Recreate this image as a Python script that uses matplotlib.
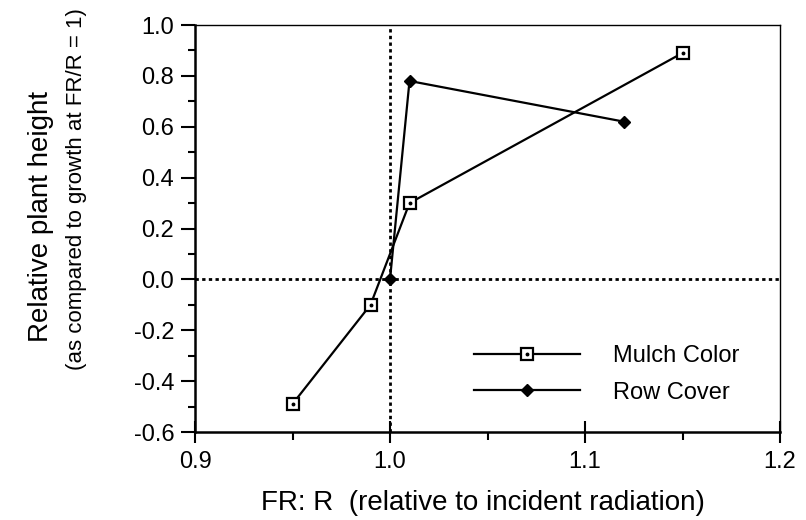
import matplotlib
matplotlib.use("Agg")
import matplotlib.pyplot as plt
from matplotlib.ticker import MultipleLocator
from matplotlib.legend_handler import HandlerTuple

plt.rcParams['font.family'] = ['Liberation Sans', 'DejaVu Sans']

# data
mulch_x = [0.95, 0.99, 1.01, 1.15]
mulch_y = [-0.49, -0.10, 0.30, 0.89]
row_x = [1.00, 1.01, 1.12]
row_y = [0.00, 0.78, 0.62]

W, H = 806, 520
fig = plt.figure(figsize=(W / 100, H / 100), dpi=100)
ax = fig.add_axes([195 / W, 1 - 432 / H, (780 - 195) / W, (432 - 25) / H])

# dotted reference lines at FR/R = 1 and zero
ax.axvline(1.0, color='black', lw=2, ls=(0, (1.2, 1.2)), zorder=1)
ax.axhline(0.0, color='black', lw=2, ls=(0, (1.2, 1.2)), zorder=1)

mline, = ax.plot(mulch_x, mulch_y, color='black', lw=1.6, marker='s', ms=8,
                 mfc='white', mec='black', mew=1.6, zorder=3)
mdot, = ax.plot(mulch_x, mulch_y, ls='none', marker='o', ms=1.8,
                color='black', zorder=4)
rline, = ax.plot(row_x, row_y, color='black', lw=1.6, marker='D', ms=6,
                 mfc='black', mec='black', zorder=3)

ax.set_xlim(0.9, 1.2)
ax.set_ylim(-0.6, 1.0)
ax.xaxis.set_major_locator(MultipleLocator(0.1))
ax.xaxis.set_minor_locator(MultipleLocator(0.05))
ax.yaxis.set_major_locator(MultipleLocator(0.2))
ax.yaxis.set_minor_locator(MultipleLocator(0.1))
ax.xaxis.set_major_formatter(plt.FuncFormatter(lambda v, p: f"{v:.1f}"))
ax.yaxis.set_major_formatter(plt.FuncFormatter(lambda v, p: f"{v:.1f}"))

ax.tick_params(axis='y', which='major', direction='out', length=10, width=1.5,
               labelsize=17, pad=5)
ax.tick_params(axis='y', which='minor', direction='out', length=5, width=1.5)
ax.tick_params(axis='x', which='major', direction='inout', length=16, width=1.5,
               labelsize=17, pad=6)
ax.tick_params(axis='x', which='minor', direction='out', length=6, width=1.5)

for s in ['left', 'bottom']:
    ax.spines[s].set_linewidth(1.8)
for s in ['top', 'right']:
    ax.spines[s].set_linewidth(1.0)

leg = ax.legend([(mline, mdot), rline], ['Mulch Color', 'Row Cover'],
                handler_map={tuple: HandlerTuple(ndivide=1)},
                frameon=False, fontsize=17, handlelength=4.5,
                handletextpad=1.4, labelspacing=0.6,
                loc='upper left', bbox_to_anchor=(0.44, 0.265))

fig.text(41 / W, 1 - 216 / H, 'Relative plant height', rotation=90,
         ha='center', va='center', fontsize=20)
fig.text(77 / W, 1 - 189 / H, '(as compared to growth at FR/R = 1)',
         rotation=90, ha='center', va='center', fontsize=16)
fig.text(483 / W, 1 - 503 / H, 'FR: R  (relative to incident radiation)',
         ha='center', va='center', fontsize=20)

fig.savefig('out.png', dpi=100)
